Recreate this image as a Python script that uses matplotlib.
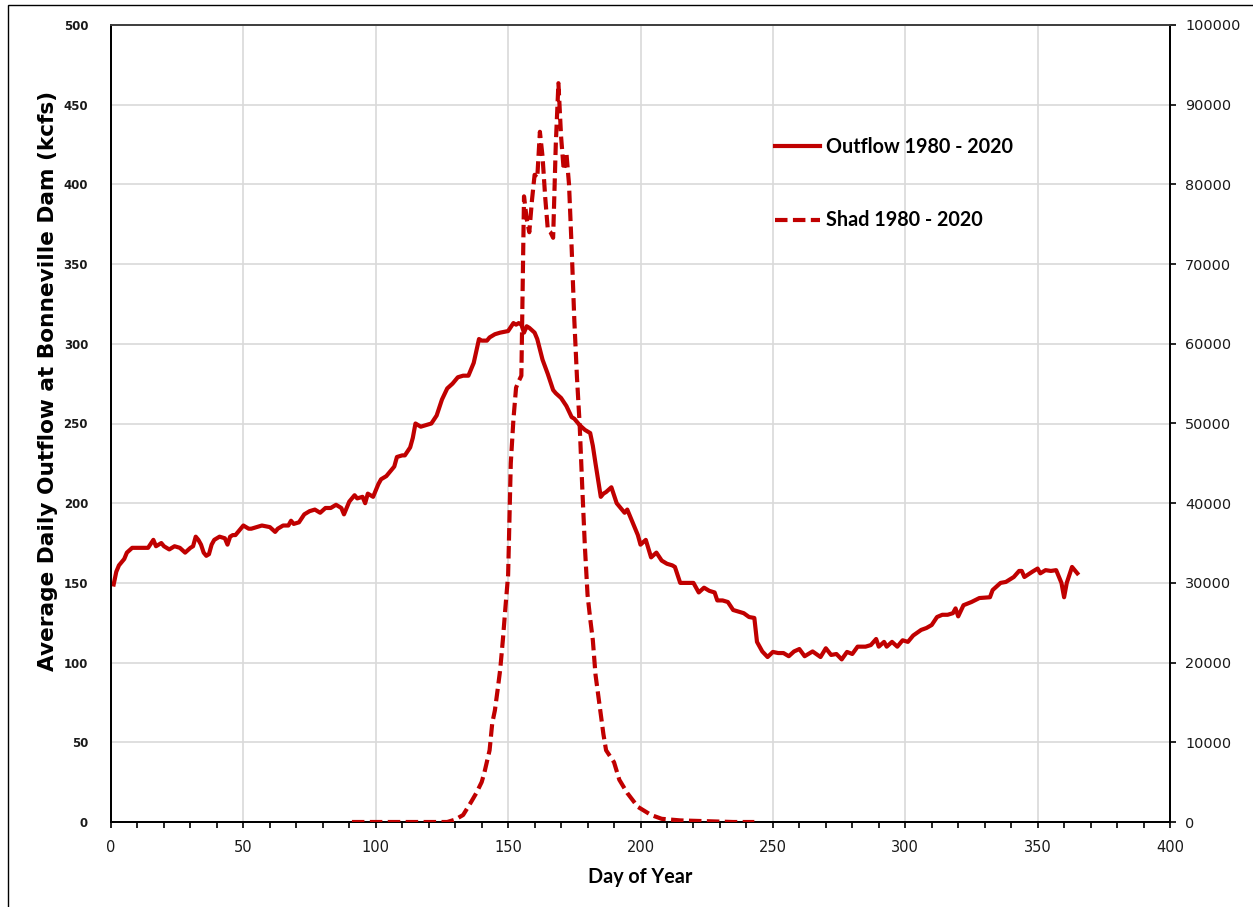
import matplotlib
matplotlib.use("Agg")
import matplotlib.pyplot as plt
from matplotlib.patches import Rectangle
from matplotlib.ticker import MultipleLocator, FuncFormatter

# Average daily outflow at Bonneville Dam (kcfs), 1980 - 2020
outflow_day = [1, 2, 3, 5, 6, 8, 10, 12, 14, 16, 17, 18, 19, 20, 22, 24, 26, 28, 30,
               31, 32, 33, 34, 35, 36, 37, 38, 39, 41, 43, 44, 45, 46, 47, 48, 50,
               52, 53, 55, 57, 60, 62, 63, 65, 67, 68, 69, 71, 73, 75, 77, 79, 81,
               83, 85, 87, 88, 90, 92, 93, 95, 96, 97, 99, 101, 102, 104, 106, 107,
               108, 110, 111, 113, 114, 115, 117, 119, 121, 123, 125, 127, 129, 131,
               133, 135, 137, 139, 140, 142, 143, 145, 147, 150, 152, 153, 154, 155,
               156, 157, 158, 160, 161, 163, 165, 167, 168, 170, 172, 174, 175, 177,
               179, 181, 182, 183, 185, 186, 187, 189, 191, 192, 194, 195, 197, 199,
               200, 202, 204, 206, 208, 210, 212, 213, 215, 218, 220, 222, 224, 226,
               228, 229, 231, 233, 235, 237, 239, 241, 243, 244, 246, 248, 250, 252,
               254, 256, 258, 260, 262, 265, 268, 270, 272, 274, 276, 278, 280, 282,
               285, 287, 289, 290, 292, 293, 295, 297, 299, 301, 303, 306, 308, 310,
               312, 314, 316, 318, 319, 320, 322, 325, 328, 332, 333, 336, 338, 341,
               343, 344, 345, 348, 350, 351, 353, 355, 357, 359, 360, 361, 363, 365]
outflow_kcfs = [149, 157, 161, 165, 169, 172, 172, 172, 172, 177, 173, 174, 175, 173,
                171, 173, 172, 169, 172, 173, 179, 177, 174, 169, 167, 168, 174, 177,
                179, 178, 174, 179, 180, 180, 182, 186, 184, 184, 185, 186, 185, 182,
                184, 186, 186, 189, 187, 188, 193, 195, 196, 194, 197, 197, 199, 197,
                193, 201, 205, 203, 204, 200, 206, 204, 212, 215, 217, 221, 223, 229,
                230, 230, 235, 241, 250, 248, 249, 250, 255, 265, 272, 275, 279, 280,
                280, 288, 303, 302, 302, 304, 306, 307, 308, 313, 312, 313, 312, 307,
                311, 310, 307, 303, 290, 281, 271, 269, 266, 261, 254, 253, 249, 246,
                244, 236, 225, 204, 206, 207, 210, 200, 198, 194, 196, 188, 180, 174,
                177, 166, 169, 164, 162, 161, 160, 150, 150, 150, 144, 147, 145, 144,
                139, 139, 138, 133, 132, 131, 128.6, 128, 113, 107, 103.5, 106.7, 106,
                106, 104, 107, 108.5, 104, 107, 103.5, 109, 104.8, 105.4, 102, 106.7,
                105.4, 110, 110, 111, 114.8, 110, 113, 110, 113, 110, 114, 113, 117,
                120.5, 121.7, 123.6, 128.6, 130, 130, 131, 134, 129, 136, 138, 140.5,
                141, 145.5, 150, 150.6, 153.7, 157.5, 157.5, 153.7, 157, 159, 156, 158,
                157.5, 158, 150, 141, 150, 160, 156]

# Average daily shad passage at Bonneville Dam, 1980 - 2020
shad_day = [91, 100, 110, 120, 127, 130, 133, 136, 138, 140, 141, 143, 144, 145, 146,
            147, 148, 149, 150, 151, 152, 153, 154, 155, 156, 157, 158, 159, 160, 161,
            162, 163, 164, 165, 166, 167, 168, 169, 170, 171, 172, 173, 174, 175, 176,
            177, 178, 179, 180, 181, 182, 183, 184, 185, 186, 187, 188, 190, 192, 195,
            199, 204, 208, 215, 225, 235, 243]
shad_count = [0, 0, 0, 0, 0, 300, 880, 2500, 3640, 5000, 6150, 9000, 12400, 14000,
              16500, 19100, 22800, 27000, 31000, 45000, 50500, 54500, 55300, 56000,
              78500, 75700, 74000, 78000, 81200, 80800, 86600, 83500, 78400, 74300,
              74000, 73300, 85000, 92700, 86000, 81800, 84000, 80000, 72000, 63000,
              55800, 50000, 42000, 34500, 28500, 25500, 22800, 18500, 16000, 13500,
              11000, 9000, 8500, 7500, 5300, 3640, 1900, 880, 400, 200, 100, 0, 0]

x_ticks = list(range(0, 401, 50))
left_ticks = list(range(0, 501, 50))
right_ticks = list(range(0, 100001, 10000))

RED = "#C00000"
GRID = "#D9D9D9"

fig = plt.figure(figsize=(12.53, 9.07), dpi=100)
ax = fig.add_axes([111 / 1253, 85 / 907, 1059 / 1253, 797 / 907])
ax2 = ax.twinx()

line_out, = ax.plot(outflow_day, outflow_kcfs, color=RED, lw=3.0,
                    solid_joinstyle="round", label="Outflow 1980 - 2020", zorder=3)
line_shad, = ax2.plot(shad_day, shad_count, color=RED, lw=3.0,
                      linestyle=(0, (3.0, 1.3)), label="Shad 1980 - 2020", zorder=3)

ax.set_xlim(0, 400)
ax.set_ylim(0, 500)
ax2.set_ylim(0, 100000)
ax.set_xticks(x_ticks)
ax.xaxis.set_minor_locator(MultipleLocator(10))
ax.set_yticks(left_ticks)
ax2.set_yticks(right_ticks)
ax2.yaxis.set_major_formatter(FuncFormatter(lambda v, p: f"{int(v)}"))

ax.grid(True, which="major", color=GRID, lw=1.2, zorder=0)
ax.set_axisbelow(True)

for a in (ax, ax2):
    for side in ("left", "bottom", "right"):
        a.spines[side].set_color("black")
        a.spines[side].set_linewidth(1.3)
    a.spines["top"].set_color("#404040")
    a.spines["top"].set_linewidth(1.3)

ax.tick_params(axis="x", which="major", direction="out", length=4, width=1.2,
               pad=9, labelsize=10.5, labelcolor="#1a1a1a")
ax.tick_params(axis="x", which="minor", direction="out", length=4, width=1.2)
ax.tick_params(axis="y", length=0, pad=16.5, labelsize=8.5, labelcolor="#1a1a1a")
for lbl in ax.get_yticklabels():
    lbl.set_fontweight("bold")
ax2.tick_params(axis="y", direction="out", length=4, width=1.2, pad=7,
                labelsize=10.4, labelcolor="#1a1a1a")

ax.set_xlabel("Day of Year", family="Lato", weight="bold", fontsize=14.2,
              labelpad=8.5)
ax.set_ylabel("Average Daily Outflow at Bonneville Dam (kcfs)", family="DejaVu Sans",
              weight="bold", fontsize=15.6)
ax.yaxis.set_label_coords(-0.050, 0.553)

leg = ax.legend(handles=[line_out, line_shad], loc="upper left",
                bbox_to_anchor=(0.612, 0.879), frameon=False,
                prop={"family": "Lato", "weight": "bold", "size": 14.2},
                handlelength=2.3, handletextpad=0.3, labelspacing=2.7,
                borderpad=0.3)

# outer chart border
fig.add_artist(Rectangle((8 / 1253, -0.05), 1.1, 1 - 5 / 907 + 0.05,
                         transform=fig.transFigure, fill=False,
                         edgecolor="black", lw=1.0))

fig.savefig("out.png", dpi=100)
